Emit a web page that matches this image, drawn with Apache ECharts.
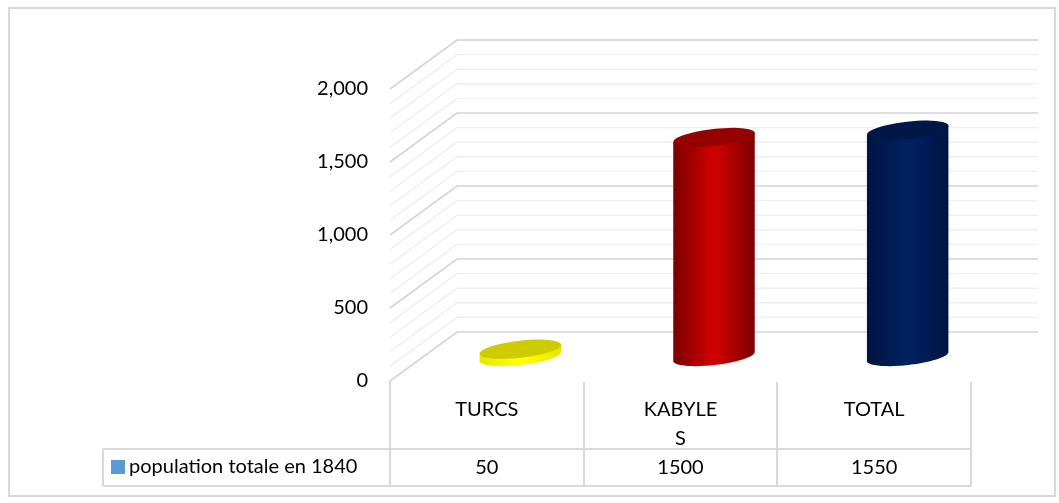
<!DOCTYPE html>
<html>
<head>
<meta charset="utf-8">
<title>population totale en 1840</title>
<script src="https://cdn.jsdelivr.net/npm/echarts@6/dist/echarts.min.js"></script>
<style>
  html, body { margin: 0; padding: 0; background: #fff; }
  #chart { width: 1059px; height: 503px; }
</style>
</head>
<body>
<div id="chart"></div>
<script>
// donnees
const categories = ['TURCS', 'KABYLE\nS', 'TOTAL'];
const populationValues = [50, 1500, 1550];
const seriesName = 'population totale en 1840';
const wallTicks = [0, 100, 200, 300, 400, 500, 600, 700, 800, 900, 1000, 1100, 1200, 1300, 1400, 1500, 1600, 1700, 1800, 1900, 2000];

// couleurs des cylindres : bord, centre, dessus
const cylinderColors = [
  { edge: '#e6e600', mid: '#ffff00', top: '#cccc00' },
  { edge: '#7a0000', mid: '#cc0000', top: '#950000' },
  { edge: '#001440', mid: '#002060', top: '#001748' }
];

const FONT = 'Lato, Carlito, sans-serif';
const DEPTH_X = 67, DEPTH_Y = -49;
const RX = 41, RY = 8.5, TILT = -6.5 * Math.PI / 180;

// point d'une ellipse inclinee
function ellipsePoint(cx, cy, t) {
  const ex = RX * Math.cos(t), ey = RY * Math.sin(t);
  return [cx + ex * Math.cos(TILT) - ey * Math.sin(TILT), cy + ex * Math.sin(TILT) + ey * Math.cos(TILT)];
}

function ellipsePoints(cx, cy, from, to) {
  const pts = [];
  for (let i = 0; i <= 48; i++) pts.push(ellipsePoint(cx, cy, from + (to - from) * i / 48));
  return pts;
}

function renderWall(params, api) {
  const sys = params.coordSys;
  const y = api.coord([0, api.value(0)])[1];
  const major = api.value(0) % 500 === 0;
  return {
    type: 'polyline',
    shape: {
      points: [
        [sys.x, y],
        [sys.x + DEPTH_X, y + DEPTH_Y],
        [sys.x + sys.width + DEPTH_X, y + DEPTH_Y]
      ]
    },
    style: { fill: null, stroke: major ? '#d4d4d4' : '#efefef', lineWidth: major ? 1.6 : 1.4 },
    silent: true
  };
}

function renderCylinder(params, api) {
  const base = api.coord([api.value(0), 0]);
  const head = api.coord([api.value(0), api.value(1)]);
  const cx = base[0] + DEPTH_X / 2;
  const by = base[1] + DEPTH_Y / 2;
  const ty = head[1] + DEPTH_Y / 2;
  const c = cylinderColors[params.dataIndex];
  const left = ellipsePoint(cx, ty, Math.PI);
  const right = ellipsePoint(cx, ty, 0);
  // corps : moitie basse de la base puis retour par le haut
  const body = ellipsePoints(cx, by, 0, Math.PI).concat([left, right]);
  return {
    type: 'group',
    children: [
      {
        type: 'polygon',
        shape: { points: body },
        style: {
          fill: new echarts.graphic.LinearGradient(0, 0, 1, 0, [
            { offset: 0, color: c.edge },
            { offset: 0.45, color: c.mid },
            { offset: 0.55, color: c.mid },
            { offset: 1, color: c.edge }
          ])
        }
      },
      {
        type: 'polygon',
        shape: { points: ellipsePoints(cx, ty, 0, Math.PI * 2) },
        style: { fill: c.top }
      }
    ]
  };
}

const chart = echarts.init(document.getElementById('chart'), null, { renderer: 'canvas' });

chart.setOption({
  animation: false,
  backgroundColor: '#fff',
  textStyle: { fontFamily: FONT },
  grid: { left: 390, right: 88, top: 89, bottom: 122 },
  legend: {
    left: 111,
    top: 457,
    itemWidth: 14,
    itemHeight: 14,
    itemGap: 6,
    icon: 'rect',
    padding: 0,
    data: [seriesName],
    textStyle: { fontFamily: FONT, fontSize: 20, color: '#000', padding: [0, 0, 0, -1] }
  },
  xAxis: [
    {
      type: 'category',
      data: categories,
      axisLine: { show: false },
      axisTick: { show: false },
      splitLine: { show: false },
      axisLabel: { color: '#000', fontFamily: FONT, fontSize: 20, lineHeight: 29, margin: 14, interval: 0 }
    },
    {
      type: 'category',
      position: 'bottom',
      offset: 75,
      data: populationValues.map(String),
      axisLine: { show: false },
      axisTick: { show: false },
      axisLabel: { color: '#000', fontFamily: FONT, fontSize: 20, margin: 0, interval: 0, verticalAlign: 'top', padding: [2, 0, 0, 0] }
    }
  ],
  yAxis: {
    type: 'value',
    min: 0,
    max: 2000,
    interval: 500,
    axisLine: { show: false },
    axisTick: { show: false },
    splitLine: { show: false },
    axisLabel: { color: '#000', fontFamily: FONT, fontSize: 20, margin: 22 }
  },
  series: [
    {
      type: 'custom',
      silent: true,
      renderItem: renderWall,
      data: wallTicks.map(v => [v]),
      encode: { y: 0 },
      z: 1
    },
    {
      name: seriesName,
      type: 'custom',
      renderItem: renderCylinder,
      itemStyle: { color: '#5b9bd5' },
      data: populationValues.map((v, i) => [i, v]),
      encode: { x: 0, y: 1 },
      z: 3
    }
  ],
  graphic: [
    // cadre exterieur
    { type: 'rect', z: 0, shape: { x: 9, y: 8, width: 1046, height: 488 }, style: { fill: null, stroke: '#d9d9d9', lineWidth: 2 } },
    // lignes du tableau
    { type: 'polyline', z: 2, shape: { points: [[390, 381], [390, 486]] }, style: { stroke: '#d9d9d9', lineWidth: 2 } },
    { type: 'polyline', z: 2, shape: { points: [[584, 382], [584, 486]] }, style: { stroke: '#d9d9d9', lineWidth: 2 } },
    { type: 'polyline', z: 2, shape: { points: [[777, 382], [777, 486]] }, style: { stroke: '#d9d9d9', lineWidth: 2 } },
    { type: 'polyline', z: 2, shape: { points: [[971, 382], [971, 486]] }, style: { stroke: '#d9d9d9', lineWidth: 2 } },
    { type: 'polyline', z: 2, shape: { points: [[103, 449], [971, 449]] }, style: { stroke: '#d9d9d9', lineWidth: 2 } },
    { type: 'polyline', z: 2, shape: { points: [[103, 486], [971, 486]] }, style: { stroke: '#d9d9d9', lineWidth: 2 } },
    { type: 'polyline', z: 2, shape: { points: [[103, 449], [103, 486]] }, style: { stroke: '#d9d9d9', lineWidth: 2 } }
  ]
});
</script>
</body>
</html>
